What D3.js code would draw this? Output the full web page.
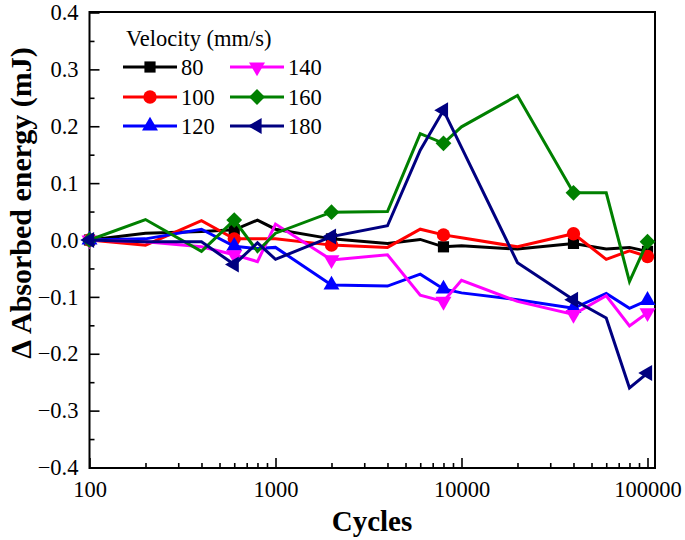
<!DOCTYPE html>
<html>
<head>
<meta charset="utf-8">
<script src="https://cdn.jsdelivr.net/npm/d3@7"></script>
<style>
  html, body { margin: 0; padding: 0; background: #fff; }
  svg { display: block; }
</style>
</head>
<body>
<svg id="chart" width="685" height="540"></svg>
<script>
// ---- data ----
const cycles = [100, 200, 400, 600, 800, 1000, 2000, 4000, 6000, 8000, 10000, 20000, 40000, 60000, 80000, 100000];
const markerCycles = [100, 600, 2000, 8000, 40000, 100000];
const seriesNames = ["80", "100", "120", "140", "160", "180"];
const v80  = [0, 0.012, 0.015, 0.018, 0.035, 0.019, 0.002, -0.006, 0.001, -0.012, -0.010, -0.016, -0.006, -0.016, -0.013, -0.020];
const v100 = [0, -0.009, 0.034, 0.002, 0.002, 0.002, -0.009, -0.013, 0.019, 0.009, 0.004, -0.012, 0.011, -0.034, -0.019, -0.029];
const v120 = [0, 0.002, 0.019, -0.011, -0.015, -0.013, -0.079, -0.081, -0.060, -0.086, -0.093, -0.105, -0.120, -0.094, -0.120, -0.106];
const v140 = [0, -0.003, -0.012, -0.026, -0.038, 0.028, -0.035, -0.026, -0.097, -0.108, -0.071, -0.108, -0.131, -0.098, -0.151, -0.128];
const v160 = [0, 0.036, -0.020, 0.035, -0.020, 0.012, 0.049, 0.050, 0.187, 0.170, 0.199, 0.254, 0.083, 0.083, -0.073, -0.003];
const v180 = [0, -0.003, -0.003, -0.043, -0.005, -0.034, 0.006, 0.025, 0.158, 0.228, 0.163, -0.040, -0.105, -0.137, -0.260, -0.234];
const seriesValues = [v80, v100, v120, v140, v160, v180];
const xTickValues = [100, 1000, 10000, 100000];
const yTickValues = [-0.4, -0.3, -0.2, -0.1, 0.0, 0.1, 0.2, 0.3, 0.4];
const legendTitle = "Velocity (mm/s)";
const xTitle = "Cycles";
const yTitle = "\u0394 Absorbed energy (mJ)";

// ---- styles ----
const FONT = "Liberation Serif";
const colors = ["#000000", "#ff0000", "#0000ff", "#ff00ff", "#008000", "#000080"];
const symbols = [
  {type: d3.symbolSquare, size: 125, rot: 0},
  {type: d3.symbolCircle, size: 140, rot: 0},
  {type: d3.symbolTriangle, size: 110, rot: 0},
  {type: d3.symbolTriangle, size: 110, rot: 180},
  {type: d3.symbolSquare, size: 125, rot: 45},
  {type: d3.symbolTriangle, size: 110, rot: -90}
];

const svg = d3.select("#chart");
const mLeft = 89.5, mRight = 655, mTop = 12, mBottom = 468;
const x = d3.scaleLog().domain([100, 100000]).range([mLeft, 647.5]);
const y = d3.scaleLinear().domain([-0.4, 0.4]).range([467.5, 12.5]);

// minor ticks
const xMinor = [];
for (let d = 100; d < 100000; d *= 10) for (let k = 2; k <= 9; k++) xMinor.push(d * k);
const yMinor = d3.range(-0.35, 0.4, 0.1);

const gx = svg.append("g").attr("transform", `translate(0,${mBottom})`);
gx.call(d3.axisBottom(x).tickValues(xMinor).tickSize(-5).tickFormat(""));
gx.append("g").call(d3.axisBottom(x).tickValues(xTickValues).tickSizeInner(-10).tickSizeOuter(0).tickPadding(13).tickFormat(d3.format("d")));
gx.selectAll(".domain").remove();
gx.selectAll("line").attr("stroke", "#000").attr("stroke-width", 1.6);
gx.selectAll("g").attr("font-family", FONT);
gx.selectAll("text").attr("font-size", 22.5).attr("font-family", FONT).attr("fill", "#000");

const gy = svg.append("g").attr("transform", `translate(${mLeft},0)`);
gy.call(d3.axisLeft(y).tickValues(yMinor).tickSize(-5).tickFormat(""));
gy.append("g").call(d3.axisLeft(y).tickValues(yTickValues).tickSizeInner(-10).tickSizeOuter(0).tickPadding(11).tickFormat(d3.format(".1f")));
gy.selectAll(".domain").remove();
gy.selectAll("line").attr("stroke", "#000").attr("stroke-width", 1.6);
gy.selectAll("g").attr("font-family", FONT);
gy.selectAll("text").attr("font-size", 22.5).attr("font-family", FONT).attr("fill", "#000");

// frame
svg.append("rect").attr("x", mLeft).attr("y", mTop).attr("width", mRight - mLeft).attr("height", mBottom - mTop)
  .attr("fill", "none").attr("stroke", "#000").attr("stroke-width", 2);

// series
const line = d3.line().x(d => x(d[0])).y(d => y(d[1]));
seriesValues.forEach((vals, i) => {
  const pts = cycles.map((c, j) => [c, vals[j]]);
  const g = svg.append("g");
  g.append("path").datum(pts).attr("d", line).attr("fill", "none")
    .attr("stroke", colors[i]).attr("stroke-width", 3).attr("stroke-miterlimit", 4);
  const sym = d3.symbol().type(symbols[i].type).size(symbols[i].size);
  g.selectAll("path.m").data(pts.filter(p => markerCycles.includes(p[0]))).join("path")
    .attr("class", "m").attr("d", sym)
    .attr("transform", d => `translate(${x(d[0])},${y(d[1])}) rotate(${symbols[i].rot})`)
    .attr("fill", colors[i]);
});

// legend
const lg = svg.append("g").attr("font-family", FONT);
lg.append("text").attr("x", 126).attr("y", 46).attr("font-size", 22.5).attr("font-family", FONT).text(legendTitle);
const colX = [123, 230], rowY = [67, 97, 126];
seriesNames.forEach((name, i) => {
  const cx = colX[Math.floor(i / 3)], cy = rowY[i % 3];
  lg.append("line").attr("x1", cx).attr("x2", cx + 54).attr("y1", cy).attr("y2", cy)
    .attr("stroke", colors[i]).attr("stroke-width", 3);
  lg.append("path").attr("d", d3.symbol().type(symbols[i].type).size(symbols[i].size))
    .attr("transform", `translate(${cx + 27},${cy}) rotate(${symbols[i].rot})`).attr("fill", colors[i]);
  lg.append("text").attr("x", cx + 58).attr("y", cy + 8).attr("font-size", 22.5).attr("font-family", FONT).text(name);
});

// axis titles
svg.append("text").attr("x", 372).attr("y", 531).attr("text-anchor", "middle").attr("font-family", FONT)
  .attr("font-size", 29).attr("font-weight", "bold").text(xTitle);
svg.append("text").attr("transform", "translate(31,203) rotate(-90)").attr("text-anchor", "middle").attr("font-family", FONT)
  .attr("font-size", 30).attr("font-weight", "bold").text(yTitle);
</script>
</body>
</html>
